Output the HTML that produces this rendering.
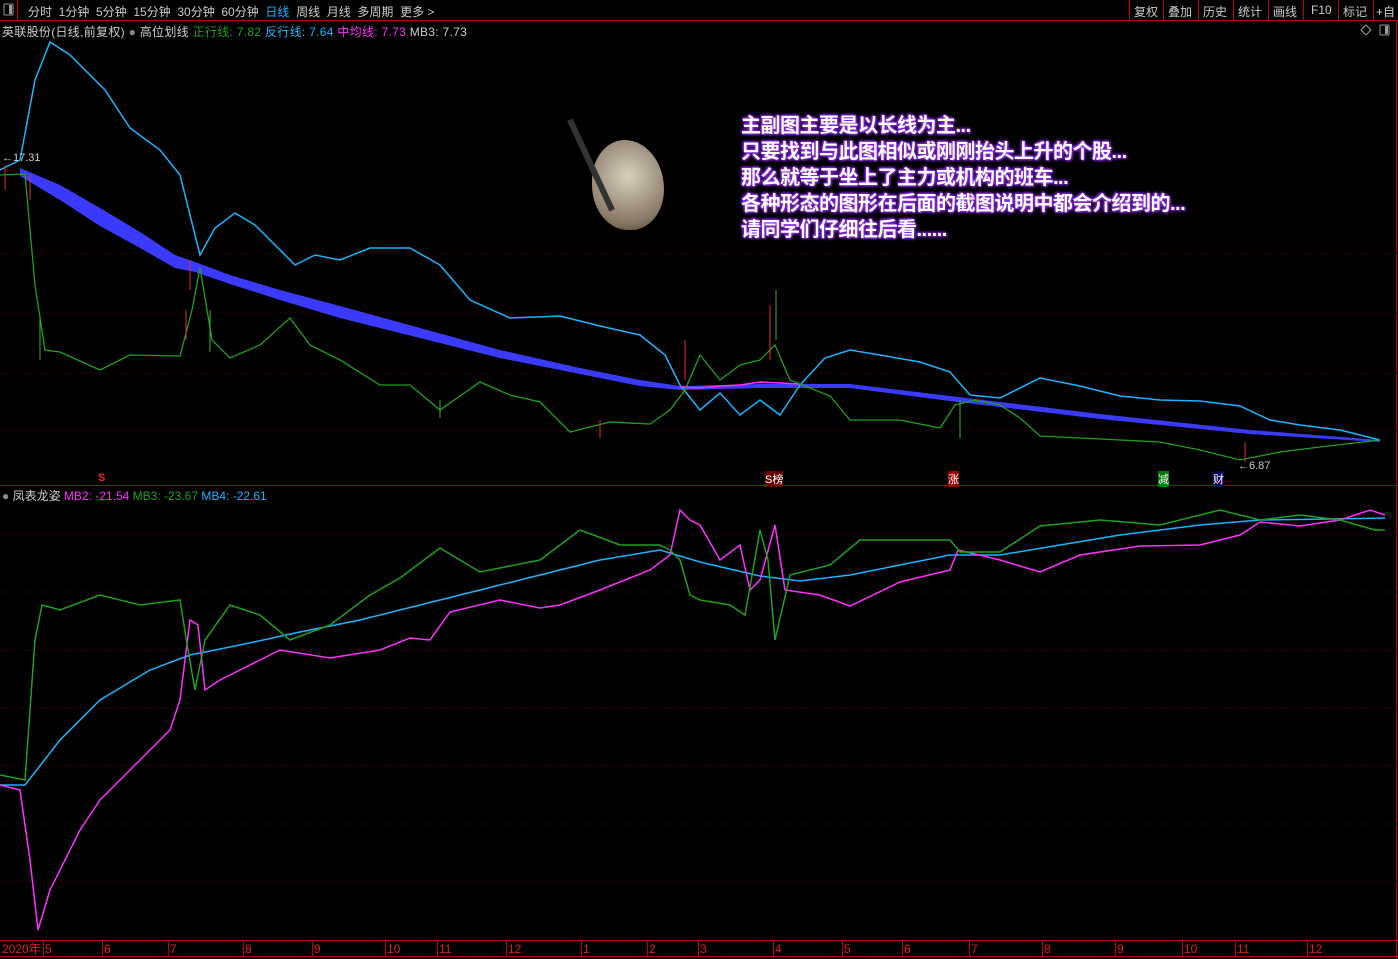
<!DOCTYPE html>
<html><head><meta charset="utf-8"><style>
body{margin:0;background:#000;width:1398px;height:959px;overflow:hidden;font-family:"Liberation Sans","Noto Sans CJK SC",sans-serif;}
.t{position:absolute;font-size:12px;white-space:nowrap;color:#ccc}
</style></head><body>
<svg width="1398" height="959" style="position:absolute;left:0;top:0" xmlns="http://www.w3.org/2000/svg">
<rect x="0" y="0" width="1398" height="959" fill="#000"/>
<line x1="0" y1="20.5" x2="1398" y2="20.5" stroke="#c00000"/>
<line x1="17.5" y1="0" x2="17.5" y2="20" stroke="#c00000"/>
<g stroke="#c00000"><line x1="1129.5" y1="0" x2="1129.5" y2="20"/><line x1="1163.5" y1="0" x2="1163.5" y2="20"/><line x1="1198.5" y1="0" x2="1198.5" y2="20"/><line x1="1233.5" y1="0" x2="1233.5" y2="20"/><line x1="1268.5" y1="0" x2="1268.5" y2="20"/><line x1="1303.5" y1="0" x2="1303.5" y2="20"/><line x1="1338.5" y1="0" x2="1338.5" y2="20"/><line x1="1373.5" y1="0" x2="1373.5" y2="20"/><line x1="1396.5" y1="20" x2="1396.5" y2="959"/></g>
<rect x="4" y="4" width="9" height="11" fill="none" stroke="#999" rx="1"/><rect x="9" y="5" width="3" height="9" fill="#999"/>
<rect x="1380" y="25" width="9" height="10" fill="none" stroke="#999" rx="1"/><rect x="1385" y="26" width="3" height="8" fill="#999"/>
<path d="M1366 25 L1371 30 L1366 35 L1361 30 Z" fill="none" stroke="#999"/>
<g stroke="#3a0000" stroke-dasharray="2,3">
<line x1="0" y1="253" x2="1398" y2="253"/><line x1="0" y1="313" x2="1398" y2="313"/><line x1="0" y1="373" x2="1398" y2="373"/><line x1="0" y1="431" x2="1398" y2="431"/>
<line x1="0" y1="535" x2="1398" y2="535"/><line x1="0" y1="592" x2="1398" y2="592"/><line x1="0" y1="650" x2="1398" y2="650"/><line x1="0" y1="708" x2="1398" y2="708"/><line x1="0" y1="766" x2="1398" y2="766"/><line x1="0" y1="824" x2="1398" y2="824"/><line x1="0" y1="881" x2="1398" y2="881"/>
</g>
<line x1="0" y1="485.5" x2="1398" y2="485.5" stroke="#a00000"/>
<line x1="0" y1="940.5" x2="1398" y2="940.5" stroke="#c00000"/>
<line x1="0" y1="956.5" x2="1398" y2="956.5" stroke="#c00000"/>
<g stroke="#c00000">
<line x1="43.5" y1="940" x2="43.5" y2="956"/><line x1="102.5" y1="940" x2="102.5" y2="956"/><line x1="168.5" y1="940" x2="168.5" y2="956"/><line x1="243.5" y1="940" x2="243.5" y2="956"/><line x1="312.5" y1="940" x2="312.5" y2="956"/><line x1="385.5" y1="940" x2="385.5" y2="956"/><line x1="437.5" y1="940" x2="437.5" y2="956"/><line x1="506.5" y1="940" x2="506.5" y2="956"/><line x1="581.5" y1="940" x2="581.5" y2="956"/><line x1="647.5" y1="940" x2="647.5" y2="956"/><line x1="698.5" y1="940" x2="698.5" y2="956"/><line x1="773.5" y1="940" x2="773.5" y2="956"/><line x1="842.5" y1="940" x2="842.5" y2="956"/><line x1="902.5" y1="940" x2="902.5" y2="956"/><line x1="969.5" y1="940" x2="969.5" y2="956"/><line x1="1042.5" y1="940" x2="1042.5" y2="956"/><line x1="1115.5" y1="940" x2="1115.5" y2="956"/><line x1="1182.5" y1="940" x2="1182.5" y2="956"/><line x1="1235.5" y1="940" x2="1235.5" y2="956"/><line x1="1307.5" y1="940" x2="1307.5" y2="956"/>
</g>
<g fill="#e02020" font-size="12" font-family="Liberation Sans,Noto Sans CJK SC,sans-serif">
<text x="2" y="953">2020年</text><text x="45" y="953">5</text><text x="104" y="953">6</text><text x="170" y="953">7</text><text x="245" y="953">8</text><text x="314" y="953">9</text><text x="387" y="953">10</text><text x="439" y="953">11</text><text x="508" y="953">12</text><text x="583" y="953">1</text><text x="649" y="953">2</text><text x="700" y="953">3</text><text x="775" y="953">4</text><text x="844" y="953">5</text><text x="904" y="953">6</text><text x="971" y="953">7</text><text x="1044" y="953">8</text><text x="1117" y="953">9</text><text x="1184" y="953">10</text><text x="1237" y="953">11</text><text x="1309" y="953">12</text>
</g>
<polygon fill="#3b3bff" points="20,168 60,185 100,208 140,232 175,255 195,262 230,275 280,290 340,306 420,328 500,350 580,368 640,380 680,386 760,384 850,384 950,396 1100,414 1250,430 1380,440 1380,442 1250,434 1100,419 950,401 850,388 760,388 680,390 640,386 580,374 500,358 420,338 340,318 280,300 230,284 195,272 175,268 140,248 100,226 60,200 20,176"/>
<polyline fill="none" stroke="#19b4ff" stroke-width="1.5" points="0,170 20,160 35,80 50,42 70,55 105,90 130,128 160,150 180,175 200,255 215,228 235,213 255,225 275,245 295,265 315,255 340,260 370,248 410,248 440,265 470,300 510,318 560,316 600,326 640,335 665,355 680,385 700,410 720,393 740,415 760,400 780,415 800,385 825,358 850,350 880,355 920,362 950,372 970,395 1000,398 1040,378 1080,386 1120,396 1160,400 1200,401 1240,406 1270,420 1300,425 1340,430 1380,440"/>
<polyline fill="none" stroke="#ff30ff" stroke-width="1.5" points="680,387 700,388 720,386 740,385 760,382 780,383 800,384"/>
<polyline fill="none" stroke="#20a020" stroke-width="1.3" points="0,175 25,174 35,285 45,350 60,352 100,370 130,355 180,356 192,310 200,268 212,340 230,358 260,345 290,318 310,345 340,360 380,385 410,385 440,410 480,382 510,395 540,402 570,432 610,422 650,424 670,410 685,390 700,355 720,380 740,365 760,360 775,345 790,380 830,396 850,420 900,420 940,428 955,405 975,400 1000,405 1020,418 1040,436 1080,438 1120,440 1160,442 1200,450 1240,460 1280,452 1320,447 1380,440"/>
<g stroke="#e03030"><line x1="5" y1="165" x2="5" y2="190"/><line x1="190" y1="260" x2="190" y2="290"/><line x1="186" y1="310" x2="186" y2="340"/><line x1="685" y1="340" x2="685" y2="380"/><line x1="770" y1="305" x2="770" y2="360"/><line x1="1245" y1="442" x2="1245" y2="462"/><line x1="600" y1="420" x2="600" y2="438"/><line x1="30" y1="175" x2="30" y2="200"/></g>
<g stroke="#3ab03a"><line x1="776" y1="290" x2="776" y2="340"/><line x1="40" y1="320" x2="40" y2="360"/><line x1="210" y1="310" x2="210" y2="352"/><line x1="440" y1="400" x2="440" y2="418"/><line x1="960" y1="400" x2="960" y2="438"/></g>
<polyline fill="none" stroke="#19b4ff" stroke-width="1.5" points="0,785 25,785 60,740 100,700 150,670 190,655 240,645 300,632 360,620 420,605 480,590 540,575 600,560 660,550 700,562 760,576 800,581 850,575 900,565 950,555 1000,555 1060,545 1120,535 1200,525 1260,520 1330,519 1385,518"/>
<polyline fill="none" stroke="#ff30ff" stroke-width="1.5" points="0,785 20,790 30,860 38,930 50,890 60,870 80,830 100,800 140,760 170,730 180,700 190,620 198,625 205,690 220,680 240,670 260,660 280,650 330,658 380,650 410,638 430,640 450,612 500,600 540,608 560,605 600,590 650,570 670,555 680,510 690,520 700,525 720,560 740,545 750,590 760,580 775,525 785,590 820,595 850,606 900,582 950,570 958,550 1000,560 1040,572 1080,555 1140,546 1200,545 1240,535 1260,522 1300,526 1340,520 1370,510 1385,515"/>
<polyline fill="none" stroke="#20a020" stroke-width="1.5" points="0,775 25,780 35,640 42,605 60,610 100,595 140,605 180,600 188,650 195,690 205,640 230,605 260,615 290,640 330,625 370,595 400,578 440,548 480,572 540,560 560,545 580,530 620,545 660,545 670,550 680,560 690,595 700,600 730,605 745,615 760,530 768,560 775,640 790,575 830,565 860,540 900,540 950,540 960,552 1000,552 1040,526 1100,520 1160,525 1220,510 1260,520 1300,515 1340,520 1375,530 1385,530"/>
</svg>
<div class="t" style="left:28px;top:3px;color:#ccc">分时&nbsp; 1分钟&nbsp; 5分钟&nbsp; 15分钟&nbsp; 30分钟&nbsp; 60分钟&nbsp; <span style="color:#19b4ff">日线</span>&nbsp; 周线&nbsp; 月线&nbsp; 多周期&nbsp; 更多 &gt;</div>
<div class="t" style="left:1134px;top:3px">复权</div><div class="t" style="left:1168px;top:3px">叠加</div><div class="t" style="left:1203px;top:3px">历史</div><div class="t" style="left:1238px;top:3px">统计</div><div class="t" style="left:1273px;top:3px">画线</div><div class="t" style="left:1311px;top:3px">F10</div><div class="t" style="left:1343px;top:3px">标记</div><div class="t" style="left:1376px;top:3px">+自</div>
<div class="t" style="left:2px;top:23px;letter-spacing:0.3px">英联股份(日线,前复权) <span style="color:#888">●</span> 高位划线 <span style="color:#20a020">正行线: 7.82</span> <span style="color:#19b4ff">反行线: 7.64</span> <span style="color:#ff30ff">中均线: 7.73</span> MB3: 7.73</div>
<div class="t" style="left:2px;top:152px;font-size:11px">←17.31</div>
<div class="t" style="left:1238px;top:460px;font-size:11px">←6.87</div>
<div class="t" style="left:2px;top:487px"><span style="color:#888">●</span> 凤表龙姿 <span style="color:#ff30ff">MB2: -21.54</span> <span style="color:#20a020">MB3: -23.67</span> <span style="color:#19b4ff">MB4: -22.61</span></div>
<div class="t" style="left:98px;top:472px;color:#f22;font-size:11px;font-weight:bold">S</div>
<div class="t" style="left:765px;top:471px;font-size:11px;color:#fff;background:#600">S榜</div>
<div class="t" style="left:948px;top:471px;font-size:11px;color:#fff;background:#900">涨</div>
<div class="t" style="left:1158px;top:471px;font-size:11px;color:#fff;background:#070">减</div>
<div class="t" style="left:1213px;top:471px;font-size:11px;color:#fff;background:#005">财</div>
<div style="position:absolute;left:741px;top:113px;font-size:20px;font-weight:bold;line-height:26px;color:#fff;text-shadow:0 0 3px #8a2be2,0 0 3px #8a2be2,1px 1px 2px #7b1fd0,-1px -1px 2px #7b1fd0;font-family:'Liberation Sans','Noto Sans CJK SC',sans-serif;white-space:nowrap;letter-spacing:-0.5px">主副图主要是以长线为主...<br>只要找到与此图相似或刚刚抬头上升的个股...<br>那么就等于坐上了主力或机构的班车...<br>各种形态的图形在后面的截图说明中都会介绍到的...<br>请同学们仔细往后看......</div>
<div style="position:absolute;left:592px;top:140px;width:72px;height:90px;border-radius:45% 55% 45% 50%;background:radial-gradient(circle at 50% 40%,#d8d0c0,#8a7a68 70%,#504030)"></div>
<div style="position:absolute;left:588px;top:115px;width:6px;height:100px;background:#333;transform:rotate(-25deg)"></div>
</body></html>
